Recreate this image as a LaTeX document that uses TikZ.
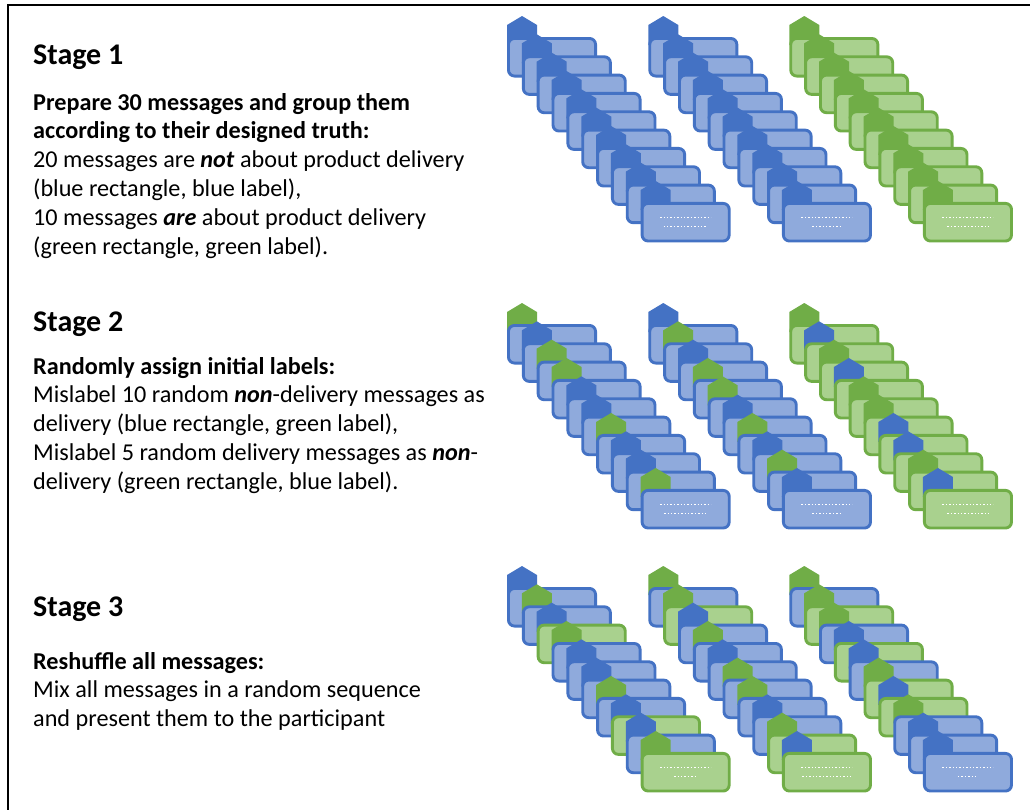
\documentclass[tikz,border=0pt]{standalone}
\usepackage{fontspec}
\setmainfont{Carlito}
\definecolor{lineb}{HTML}{4472C4}
\definecolor{fillb}{HTML}{8FAADC}
\definecolor{labb}{HTML}{4472C4}
\definecolor{lineg}{HTML}{70AD47}
\definecolor{fillg}{HTML}{A9D18E}
\definecolor{labg}{HTML}{70AD47}
\tikzset{
  cardshape/.style={line width=2.9pt, rounded corners=6pt},
  dotrow/.style={white, line width=1.4pt, dash pattern=on 1.4pt off 2.0pt},
  body/.style={anchor=base west, inner sep=0pt, font=\fontsize{24.2}{28.8}\selectfont},
  bodyb/.style={body, font=\fontsize{24.2}{28.8}\selectfont\bfseries},
  head/.style={anchor=base west, inner sep=0pt, font=\fontsize{30}{36}\selectfont\bfseries},
  frame/.style={line width=2.6pt, black}
}
% #1 x0, #2 y0 (top of first card), #3 list card/label, #4 width of second dotted row
\newcommand{\msgstack}[4]{%
  \foreach \cardc/\labc [count=\k] in {#3} {
    \pgfmathsetmacro{\xx}{#1+(\k-1)*14.85}
    \pgfmathsetmacro{\yy}{#2+(\k-1)*18.33}
    \fill[lab\labc] (\xx,\yy-12) -- (\xx+15,\yy-21) -- (\xx+30,\yy-12) -- (\xx+30,\yy+8) -- (\xx,\yy+8) -- cycle;
    \draw[cardshape, draw=line\cardc, fill=fill\cardc] (\xx+1.45,\yy+1.45) rectangle (\xx+88.55,\yy+39.05);
  }
  \pgfmathsetmacro{\lx}{#1+9*14.85+45}
  \pgfmathsetmacro{\ly}{#2+9*18.33}
  \draw[dotrow] (\lx-25.5,\ly+15.5) -- (\lx+25.5,\ly+15.5);
  \draw[dotrow] (\lx-#4/2,\ly+24.5) -- (\lx+#4/2,\ly+24.5);
}
\begin{document}
\begin{tikzpicture}[x=1pt,y=-1pt]
\useasboundingbox (0,0) rectangle (1030,809);
\fill[white] (0,0) rectangle (1030,809);
\draw[frame] (8,812) -- (8,5) -- (1034,5);

% Stage 1 text
\node[head] (h1) at (33,64) {Stage 1};
\node[bodyb] (t11) at (33,110) {Prepare 30 messages and group them};
\node[bodyb] (t12) at (33,138.8) {according to their designed truth:};
\node[body] (t13) at (33,167.6) {20 messages are \textbf{\textit{not}} about product delivery};
\node[body] (t14) at (33,196.4) {(blue rectangle, blue label),};
\node[body] (t15) at (33,225.2) {10 messages \textbf{\textit{are}} about product delivery};
\node[body] (t16) at (33,254) {(green rectangle, green label).};

% Stage 2 text
\node[head] (h2) at (33,331) {Stage 2};
\node[bodyb] (t21) at (33,374) {Randomly assign initial labels:};
\node[body] (t22) at (33,402.8) {Mislabel 10 random \textbf{\textit{non}}-delivery messages as};
\node[body] (t23) at (33,431.6) {delivery (blue rectangle, green label),};
\node[body] (t24) at (33,460.4) {Mislabel 5 random delivery messages as \textbf{\textit{non}}-};
\node[body] (t25) at (33,489.2) {delivery (green rectangle, blue label).};

% Stage 3 text
\node[head] (h3) at (33,616) {Stage 3};
\node[bodyb] (t31) at (33,669) {Reshuffle all messages:};
\node[body] (t32) at (33,697.8) {Mix all messages in a random sequence};
\node[body] (t33) at (33,726.6) {and present them to the participant};

% Stage 1 stacks
\msgstack{507}{37}{b/b,b/b,b/b,b/b,b/b,b/b,b/b,b/b,b/b,b/b}{44}
\msgstack{648.3}{37}{b/b,b/b,b/b,b/b,b/b,b/b,b/b,b/b,b/b,b/b}{29}
\msgstack{789.3}{37}{g/g,g/g,g/g,g/g,g/g,g/g,g/g,g/g,g/g,g/g}{41}

% Stage 2 stacks
\msgstack{507}{324}{b/g,b/b,b/g,b/g,b/b,b/b,b/g,b/b,b/b,b/g}{43}
\msgstack{648.3}{324}{b/b,b/g,b/b,b/g,b/g,b/b,b/g,b/b,b/g,b/b}{29}
\msgstack{789.3}{324}{g/g,g/b,g/g,g/b,g/g,g/g,g/b,g/b,g/g,g/b}{41}

% Stage 3 stacks
\msgstack{507}{587}{b/b,b/g,g/b,b/g,b/b,b/b,b/g,g/b,b/b,g/g}{23}
\msgstack{648.3}{587}{b/g,g/g,b/b,b/g,b/b,b/g,b/g,b/b,g/g,g/b}{49}
\msgstack{789.3}{587}{b/g,g/g,b/g,g/b,b/b,g/g,g/b,b/g,b/b,b/b}{20}
\end{tikzpicture}
\end{document}
